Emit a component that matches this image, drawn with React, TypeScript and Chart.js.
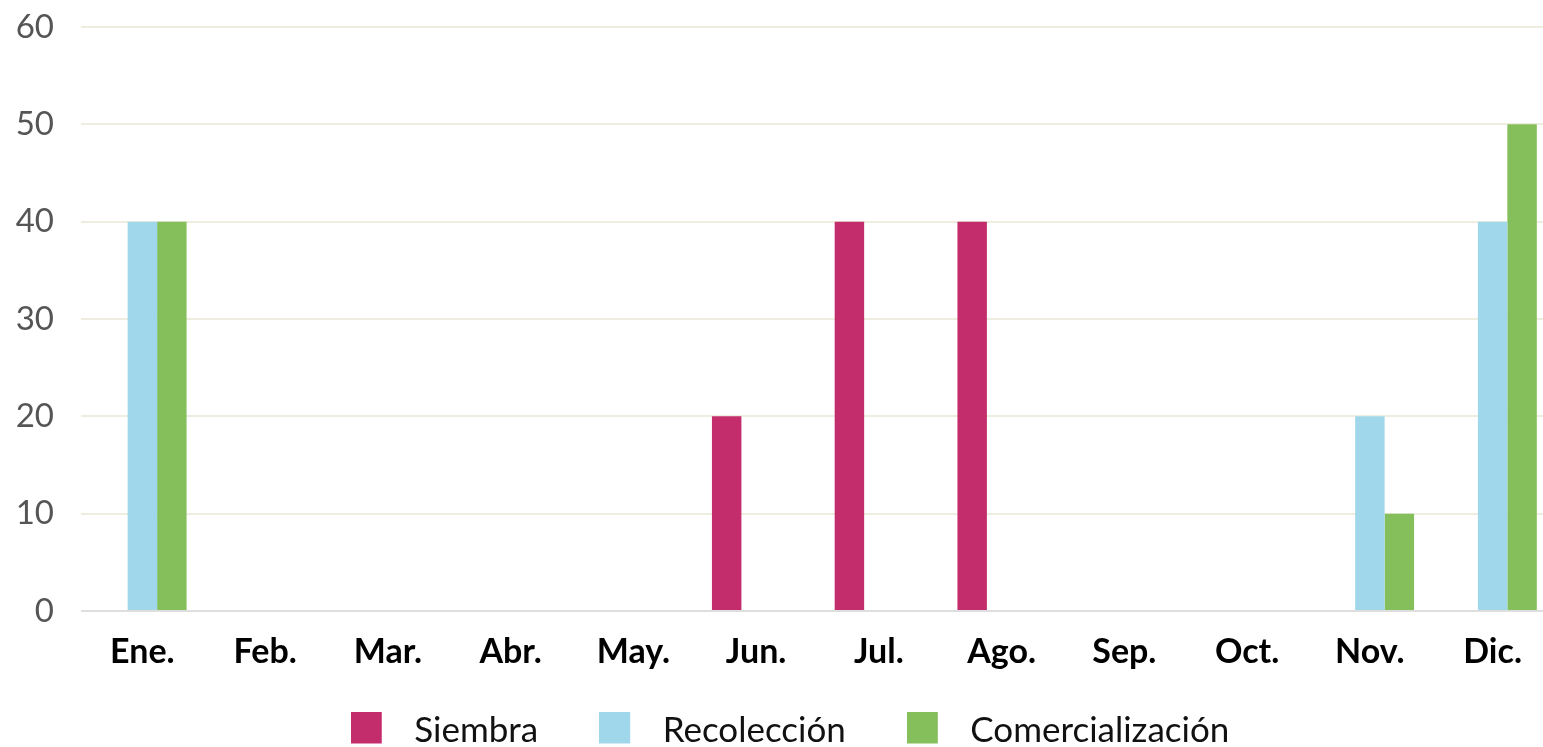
import React, { useEffect, useRef } from 'react';
import { Chart, registerables } from 'chart.js';

Chart.register(...registerables);

const months = ['Ene.', 'Feb.', 'Mar.', 'Abr.', 'May.', 'Jun.', 'Jul.', 'Ago.', 'Sep.', 'Oct.', 'Nov.', 'Dic.'];
const siembra = [0, 0, 0, 0, 0, 20, 40, 40, 0, 0, 0, 0];
const recoleccion = [40, 0, 0, 0, 0, 0, 0, 0, 0, 0, 20, 40];
const comercializacion = [40, 0, 0, 0, 0, 0, 0, 0, 0, 0, 10, 50];
const seriesNames = ['Siembra', 'Recolección', 'Comercialización'];
const seriesColors = ['#c42d6b', '#a0d7ea', '#84bf5c'];
const yMin = 0;
const yMax = 60;
const yStep = 10;

function makeSwatch(color: string): HTMLCanvasElement {
  const c = document.createElement('canvas');
  c.width = 46;
  c.height = 39;
  const ctx = c.getContext('2d')!;
  ctx.fillStyle = color;
  ctx.fillRect(0, 0, 31, 32);
  return c;
}

const legendShift = {
  id: 'legendShift',
  afterLayout(chart: any) {
    const l = chart.legend;
    if (!l) return;
    l.top -= 28.5;
    l.left += 13;
    l.right += 13;
  },
};

export default function App() {
  const ref = useRef<HTMLCanvasElement | null>(null);

  useEffect(() => {
    if (!ref.current) return;
    Chart.defaults.font.family = 'Lato';
    const seriesValues = [siembra, recoleccion, comercializacion];
    const chart = new Chart(ref.current, {
      type: 'bar',
      data: {
        labels: months,
        datasets: seriesNames.map((name, i) => ({
          label: name,
          data: seriesValues[i],
          backgroundColor: seriesColors[i],
          borderWidth: 0,
          categoryPercentage: 0.72,
          barPercentage: 1.0,
        })),
      },
      plugins: [legendShift],
      options: {
        animation: false,
        responsive: true,
        maintainAspectRatio: false,
        layout: { padding: { top: 27, left: 0, right: 0, bottom: 0 } },
        plugins: {
          tooltip: { enabled: false },
          legend: {
            position: 'bottom',
            maxHeight: 66,
            labels: {
              usePointStyle: true,
              pointStyleWidth: 46,
              padding: 61,
              color: '#111',
              font: { size: 35, family: 'Lato' },
              generateLabels: (ch: any) =>
                ch.data.datasets.map((ds: any, i: number) => ({
                  text: ds.label,
                  fillStyle: ds.backgroundColor,
                  strokeStyle: ds.backgroundColor,
                  lineWidth: 0,
                  pointStyle: makeSwatch(ds.backgroundColor),
                  hidden: false,
                  datasetIndex: i,
                  fontColor: '#111',
                })),
            },
          },
        },
        scales: {
          x: {
            grid: { display: false, drawTicks: false },
            border: { display: false },
            ticks: {
              color: '#000',
              font: { size: 34, weight: 'bold', family: 'Lato' },
              padding: 21,
              maxRotation: 0,
              autoSkip: false,
            },
            afterFit: (s: any) => {
              s.height = 70;
            },
          },
          y: {
            min: yMin,
            max: yMax,
            ticks: {
              stepSize: yStep,
              color: '#555',
              font: { size: 33, family: 'Lato' },
              padding: 27,
            },
            grid: {
              drawTicks: false,
              lineWidth: 2,
              color: (c: any) => (c.tick && c.tick.value === 0 ? '#dedede' : '#eeeddf'),
            },
            border: { display: false },
            afterFit: (s: any) => {
              s.width = 81;
              s.paddingTop = 0;
              s.paddingBottom = 0;
            },
          },
        },
      },
    } as any);
    return () => chart.destroy();
  }, []);

  return (
    <div style={{ position: 'fixed', left: 0, top: 0, width: 1554, height: 747, background: '#fff' }}>
      <canvas ref={ref} />
    </div>
  );
}
